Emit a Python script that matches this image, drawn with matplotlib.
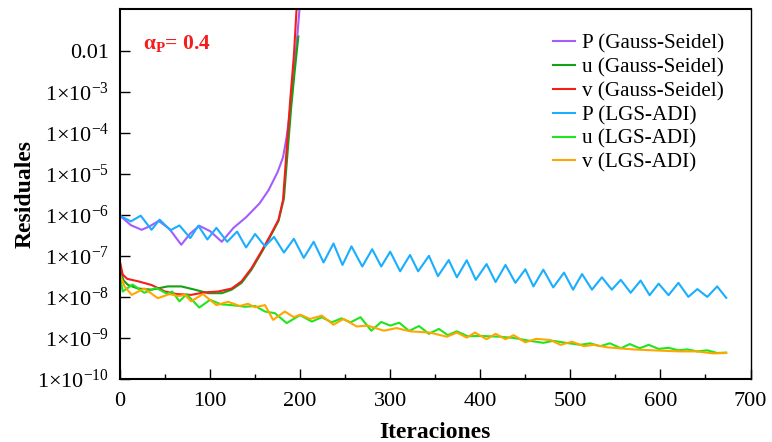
import math
import matplotlib
matplotlib.use("Agg")
import matplotlib.pyplot as plt
from matplotlib.ticker import FixedLocator, MultipleLocator, FuncFormatter, NullLocator

plt.rcParams['font.family'] = ['Liberation Serif', 'DejaVu Serif']
plt.rcParams['mathtext.fontset'] = 'custom'
plt.rcParams['mathtext.rm'] = 'Liberation Serif'
plt.rcParams['mathtext.it'] = 'Liberation Serif:italic'
plt.rcParams['mathtext.bf'] = 'Liberation Serif:bold'

# ---------------- data ----------------
p_gs_it = [0, 12, 24, 33, 43, 55, 68, 78, 88, 100, 113, 126, 140, 155, 165, 175, 181, 185, 188, 191, 194, 197, 200]
p_gs_res = [9.5e-7, 5.6e-7, 4.3e-7, 5.25e-7, 7.1e-7, 4.5e-7, 1.86e-7, 3.5e-7, 5.4e-7, 4.0e-7, 2.2e-7, 4.8e-7,
            8.7e-7, 1.9e-6, 4.0e-6, 1.1e-5, 2.5e-5, 7.9e-5, 2.5e-4, 1.0e-3, 5.0e-3, 2.5e-2, 1.6e-1]

u_gs_it = [0, 4, 9, 20, 35, 53, 68, 83, 98, 113, 124, 135, 146, 158, 168, 176, 182, 186, 190, 194, 198]
u_gs_res = [4.5e-8, 2.5e-8, 1.95e-8, 1.6e-8, 1.5e-8, 1.8e-8, 1.8e-8, 1.5e-8, 1.23e-8, 1.23e-8, 1.5e-8, 2.2e-8,
            4.6e-8, 1.3e-7, 3.3e-7, 7.1e-7, 2.5e-6, 3.2e-5, 4.0e-4, 3.2e-3, 2.2e-2]

v_gs_it = [0, 3, 8, 20, 35, 50, 63, 79, 94, 109, 124, 135, 146, 158, 168, 176, 181, 185, 189, 193, 196, 199]
v_gs_res = [7.1e-8, 3.5e-8, 2.75e-8, 2.4e-8, 1.95e-8, 1.35e-8, 1.17e-8, 1.12e-8, 1.29e-8, 1.35e-8, 1.6e-8,
            2.4e-8, 5.0e-8, 1.4e-7, 3.5e-7, 7.6e-7, 2.3e-6, 3.9e-5, 6.3e-4, 7.2e-3, 1.0e-1, 3.0e-1]

p_adi_it = [0, 12, 23, 35, 44, 56, 66, 78, 87, 97, 107, 119, 130, 140, 150, 161, 171, 182, 193, 204,
            215, 226, 237, 247, 257, 269, 280, 290, 300, 311, 322, 331, 343, 353, 365, 374, 385, 395, 407, 417,
            428, 439, 450, 459, 470, 481, 493, 503, 513, 524, 535, 546, 556, 567, 578, 588, 598, 609, 620, 631,
            641, 652, 663, 673]
p_adi_res = [9.5e-7, 6.9e-7, 9.5e-7, 4.3e-7, 7.6e-7, 4.2e-7, 5.5e-7, 2.7e-7, 5.4e-7, 2.5e-7,
             4.8e-7, 2.2e-7, 3.9e-7, 1.6e-7, 3.4e-7, 1.7e-7, 2.9e-7, 1.2e-7, 2.6e-7, 8.9e-8,
             2.2e-7, 6.9e-8, 2.0e-7, 6.0e-8, 1.7e-7, 5.5e-8, 1.45e-7, 5.5e-8, 1.26e-7, 4.2e-8,
             1.05e-7, 4.2e-8, 1.0e-7, 3.2e-8, 7.9e-8, 3.0e-8, 7.8e-8, 2.6e-8, 6.3e-8, 2.3e-8,
             6.0e-8, 2.2e-8, 4.7e-8, 1.8e-8, 4.6e-8, 1.7e-8, 3.9e-8, 1.5e-8, 3.6e-8, 1.5e-8,
             3.0e-8, 1.5e-8, 2.6e-8, 1.26e-8, 2.5e-8, 1.1e-8, 2.1e-8, 1.1e-8, 2.2e-8, 1.0e-8,
             1.55e-8, 1.0e-8, 1.8e-8, 9.5e-9]

u_adi_it = [0, 3, 14, 27, 40, 52, 58, 66, 74, 88, 100, 112, 124, 139, 150, 161, 172, 185, 200, 213,
            224, 235, 246, 256, 267, 279, 290, 300, 310, 321, 332, 343, 354, 364, 374, 386, 400, 422, 437, 455,
            470, 481, 495, 511, 522, 533, 544, 556, 566, 577, 587, 598, 609, 620, 630, 641, 652, 663, 673]
u_adi_res = [3.2e-8, 1.35e-8, 2.0e-8, 1.26e-8, 1.66e-8, 1.2e-8, 1.35e-8, 7.8e-9, 1.17e-8, 5.5e-9,
             8.5e-9, 6.6e-9, 6.3e-9, 5.75e-9, 6.0e-9, 4.4e-9, 4.0e-9, 2.3e-9, 3.6e-9, 2.5e-9,
             3.2e-9, 2.4e-9, 3.0e-9, 2.4e-9, 3.2e-9, 1.5e-9, 2.45e-9, 2.0e-9, 2.35e-9, 1.48e-9,
             1.95e-9, 1.26e-9, 1.66e-9, 1.17e-9, 1.45e-9, 1.1e-9, 1.12e-9, 1.07e-9, 1.0e-9, 8.5e-10,
             7.6e-10, 8.5e-10, 7.6e-10, 6.8e-10, 7.4e-10, 6.3e-10, 7.4e-10, 5.6e-10, 7.1e-10, 5.6e-10,
             6.8e-10, 5.4e-10, 5.75e-10, 5.0e-10, 5.25e-10, 4.7e-10, 5.0e-10, 4.3e-10, 4.4e-10]

v_adi_it = [0, 5, 13, 27, 42, 55, 65, 72, 79, 92, 107, 120, 133, 142, 150, 161, 170, 183, 193, 200,
            211, 224, 237, 248, 263, 275, 293, 307, 322, 344, 363, 374, 385, 394, 407, 417, 428, 437, 450, 462,
            478, 489, 502, 515, 526, 541, 570, 600, 622, 640, 659, 673]
v_adi_res = [3.5e-8, 1.8e-8, 1.12e-8, 1.6e-8, 9.3e-9, 1.17e-8, 1.05e-8, 1.12e-8, 7.8e-9, 1.17e-8,
             6.3e-9, 7.6e-9, 6.0e-9, 6.8e-9, 5.6e-9, 6.3e-9, 2.75e-9, 4.4e-9, 3.2e-9, 3.7e-9,
             2.9e-9, 3.5e-9, 2.1e-9, 2.9e-9, 1.9e-9, 2.0e-9, 1.5e-9, 1.74e-9, 1.45e-9, 1.35e-9,
             1.07e-9, 1.35e-9, 1.02e-9, 1.35e-9, 9.3e-10, 1.26e-9, 9.3e-10, 1.17e-9, 7.8e-10, 9.5e-10,
             8.9e-10, 6.8e-10, 8.1e-10, 6.3e-10, 6.8e-10, 5.9e-10, 5.25e-10, 4.9e-10, 4.7e-10, 4.7e-10,
             4.2e-10, 4.3e-10]

labels = ["P (Gauss-Seidel)", "u (Gauss-Seidel)", "v (Gauss-Seidel)",
          "P (LGS-ADI)", "u (LGS-ADI)", "v (LGS-ADI)"]
colors = ["#a55cff", "#16a016", "#f51c1c", "#1aaeff", "#1ee61e", "#ffa600"]

x_ticks = [0, 100, 200, 300, 400, 500, 600, 700]
y_ticks = [1e-10, 1e-9, 1e-8, 1e-7, 1e-6, 1e-5, 1e-4, 1e-3, 1e-2]

# ---------------- figure ----------------
fig = plt.figure(figsize=(7.72, 4.42), dpi=100)
ax = fig.add_axes([120 / 772, 1 - 379 / 442, (750.5 - 120) / 772, (379 - 9.5) / 442])

series = [(p_gs_it, p_gs_res), (u_gs_it, u_gs_res), (v_gs_it, v_gs_res),
          (p_adi_it, p_adi_res), (u_adi_it, u_adi_res), (v_adi_it, v_adi_res)]
for (xs, ys), lab, col in zip(series, labels, colors):
    ax.plot(xs, ys, color=col, lw=1.5, label=lab, solid_joinstyle='round')

ax.set_yscale('log')
ax.set_xlim(0, 700)
ax.set_ylim(1e-10, 1e-1)

ax.xaxis.set_major_locator(FixedLocator(x_ticks))
ax.xaxis.set_minor_locator(MultipleLocator(50))
ax.yaxis.set_major_locator(FixedLocator(y_ticks))
ax.yaxis.set_minor_locator(NullLocator())


def yfmt(v, pos):
    if abs(v - 1e-2) < 1e-6:
        return "0.01"
    e = int(round(math.log10(v)))
    return r"1×10$^{\mathregular{%d}}$" % e


ax.yaxis.set_major_formatter(FuncFormatter(yfmt))
ax.tick_params(axis='both', which='major', direction='in', length=7, width=1.0, labelsize=16)
ax.tick_params(axis='x', which='major', pad=9)
ax.tick_params(axis='y', which='major', pad=8)
ax.tick_params(axis='x', which='minor', direction='in', length=3.5, width=1.0)
ax.tick_params(top=False, right=False)
for side in ['left', 'bottom', 'top']:
    ax.spines[side].set_linewidth(1.5)
ax.spines['right'].set_linewidth(1.0)

ax.set_xlabel("Iteraciones", fontsize=17, fontweight='bold', labelpad=8)
ax.set_ylabel("Residuales", fontsize=17, fontweight='bold', labelpad=1)

ax.text(143 / 772, 1 - 43 / 442, r"$\mathbf{\alpha_P}$= 0.4", transform=fig.transFigure,
        color='#f51c1c', fontsize=15.5, fontweight='bold', va='center', ha='left')

leg = ax.legend(loc='upper left', bbox_to_anchor=(553 / 772, 1 - 34 / 442), bbox_transform=fig.transFigure,
                frameon=False, fontsize=15.2, handlelength=1.05, handletextpad=0.3, labelspacing=0.19,
                borderpad=0, borderaxespad=0)

fig.savefig("out.png", dpi=100)
